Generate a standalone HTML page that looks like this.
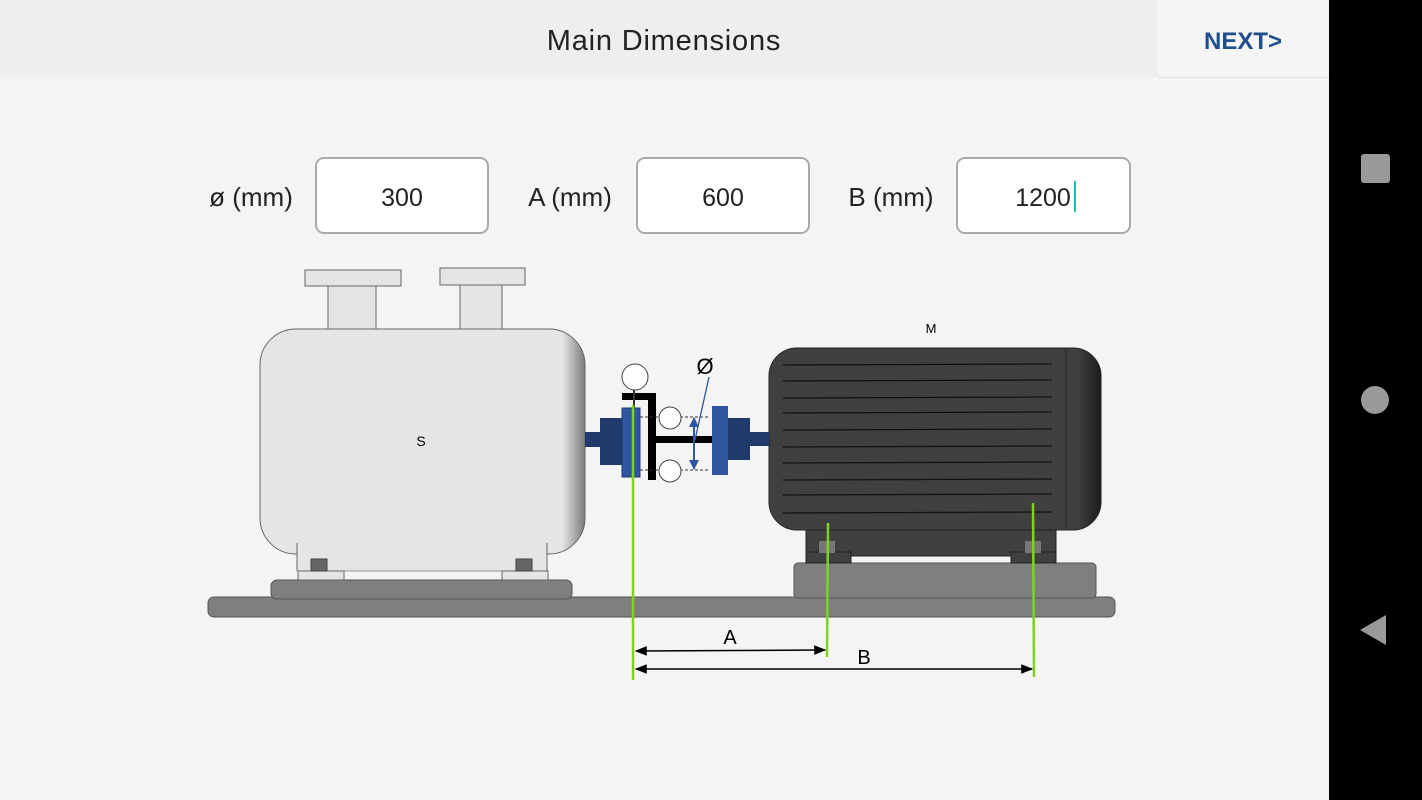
<!DOCTYPE html>
<html><head><meta charset="utf-8"><style>
html,body{margin:0;padding:0;width:1422px;height:800px;overflow:hidden;background:#f3f4f3}
svg{display:block}
text{font-family:"Liberation Sans",sans-serif}
</style></head><body>
<svg width="1422" height="800" viewBox="0 0 1422 800" xmlns="http://www.w3.org/2000/svg">
<defs>
<linearGradient id="pg" x1="0" x2="1"><stop offset="0.93" stop-color="#e5e5e5"/><stop offset="1" stop-color="#7a7a7a"/></linearGradient>
<linearGradient id="mg" x1="0" x2="1"><stop offset="0.93" stop-color="#404040"/><stop offset="1" stop-color="#1c1c1c"/></linearGradient>
<marker id="ah" viewBox="0 0 10 10" refX="9" refY="5" markerWidth="8" markerHeight="8" orient="auto-start-reverse"><path d="M0,1 L10,5 L0,9 z" fill="#000"/></marker>
<marker id="bh" viewBox="0 0 10 10" refX="9" refY="5" markerWidth="5" markerHeight="5" orient="auto-start-reverse"><path d="M0,0 L10,5 L0,10 z" fill="#2f57a0"/></marker>
</defs>
<rect x="0" y="0" width="1422" height="800" fill="#f3f4f3"/>
<rect x="0" y="0" width="1329" height="77" fill="#eeeeee"/>
<rect x="1158" y="0" width="171" height="77" fill="#f5f5f5"/>
<line x1="1158" y1="77.5" x2="1329" y2="77.5" stroke="#e2e2e2"/>
<text x="664" y="50" font-size="29" letter-spacing="0.8" text-anchor="middle" fill="#222">Main Dimensions</text>
<text x="1243" y="49" font-size="24" font-weight="bold" text-anchor="middle" fill="#1f4e8c">NEXT&gt;</text>
<rect x="1329" y="0" width="93" height="800" fill="#000"/>
<rect x="1361" y="154" width="29" height="29" rx="3" fill="#999"/>
<circle cx="1375" cy="400" r="14" fill="#999"/>
<path d="M1386,615 L1386,645 L1360,630 z" fill="#999"/>
<g font-size="25" fill="#222">
<text x="251" y="206" font-size="26" text-anchor="middle">ø (mm)</text>
<text x="570" y="206" font-size="26" text-anchor="middle">A (mm)</text>
<text x="891" y="206" font-size="26" text-anchor="middle">B (mm)</text>
<rect x="316" y="158" width="172" height="75" rx="8" fill="#fff" stroke="#aaa" stroke-width="2"/>
<rect x="637" y="158" width="172" height="75" rx="8" fill="#fff" stroke="#aaa" stroke-width="2"/>
<rect x="957" y="158" width="173" height="75" rx="8" fill="#fff" stroke="#aaa" stroke-width="2"/>
<text x="402" y="206" text-anchor="middle">300</text>
<text x="723" y="206" text-anchor="middle">600</text>
<text x="1043" y="206" text-anchor="middle">1200</text>
</g>
<rect x="1074" y="181" width="2" height="31" fill="#1fbfae"/>
<rect x="208" y="597" width="907" height="20" rx="6" fill="#7f7f7f" stroke="#555"/>
<rect x="271" y="580" width="301" height="19" rx="6" fill="#7f7f7f" stroke="#555"/>
<rect x="794" y="563" width="302" height="35" rx="4" fill="#7f7f7f" stroke="#555"/>
<rect x="305" y="270" width="96" height="16" fill="#e5e5e5" stroke="#666"/>
<rect x="440" y="268" width="85" height="17" fill="#e5e5e5" stroke="#666"/>
<rect x="328" y="286" width="48" height="43" fill="#e5e5e5" stroke="#666"/>
<rect x="460" y="285" width="42" height="44" fill="#e5e5e5" stroke="#666"/>
<rect x="260" y="329" width="325" height="225" rx="36" fill="url(#pg)" stroke="#666"/>
<rect x="297" y="540" width="250" height="31" fill="#e5e5e5"/>
<line x1="297" y1="543" x2="297" y2="571" stroke="#666"/>
<line x1="547" y1="543" x2="547" y2="571" stroke="#666"/>
<line x1="297" y1="571" x2="547" y2="571" stroke="#999"/>
<rect x="298" y="571" width="46" height="9" fill="#e5e5e5" stroke="#666"/>
<rect x="502" y="571" width="46" height="9" fill="#e5e5e5" stroke="#666"/>
<rect x="311" y="559" width="16" height="12" fill="#666" stroke="#444"/>
<rect x="516" y="559" width="16" height="12" fill="#666" stroke="#444"/>
<text x="421" y="446" font-size="14" text-anchor="middle" fill="#000">S</text>
<rect x="806" y="520" width="250" height="36" fill="#404040" stroke="#222"/>
<rect x="806" y="552" width="45" height="11" fill="#404040" stroke="#222"/>
<rect x="1011" y="552" width="45" height="11" fill="#404040" stroke="#222"/>
<rect x="819" y="541" width="16" height="12" fill="#777"/>
<rect x="1025" y="541" width="16" height="12" fill="#777"/>
<rect x="769" y="348" width="332" height="182" rx="28" fill="url(#mg)" stroke="#222"/>
<line x1="1066" y1="350" x2="1066" y2="528" stroke="#222"/>
<g stroke="#111" stroke-width="1.3">
<line x1="783" y1="365" x2="1052" y2="364"/><line x1="783" y1="381" x2="1052" y2="380"/>
<line x1="783" y1="398" x2="1052" y2="397"/><line x1="783" y1="413" x2="1052" y2="412"/>
<line x1="783" y1="430" x2="1052" y2="429"/><line x1="783" y1="447" x2="1052" y2="446"/>
<line x1="783" y1="463" x2="1052" y2="462"/><line x1="783" y1="480" x2="1052" y2="479"/>
<line x1="783" y1="495" x2="1052" y2="494"/><line x1="783" y1="513" x2="1052" y2="512"/>
</g>
<text x="931" y="333" font-size="13" text-anchor="middle" fill="#000">M</text>
<rect x="585" y="432" width="16" height="15" fill="#1f3a6b"/>
<rect x="600" y="418" width="23" height="47" fill="#1f3a6b"/>
<rect x="622" y="408" width="18" height="69" fill="#2f57a0" stroke="#1f3a6b"/>
<rect x="712" y="406" width="16" height="69" fill="#2f57a0"/>
<rect x="728" y="418" width="22" height="42" fill="#1f3a6b"/>
<rect x="750" y="432" width="19" height="14" fill="#1f3a6b"/>
<rect x="648" y="393" width="8" height="87" fill="#000"/>
<rect x="622" y="393" width="34" height="7" fill="#000"/>
<rect x="656" y="436" width="56" height="7" fill="#000"/>
<line x1="634" y1="390" x2="634" y2="408" stroke="#333" stroke-width="2"/>
<circle cx="635" cy="377" r="13" fill="#fff" stroke="#444"/>
<line x1="640" y1="417" x2="710" y2="417" stroke="#333" stroke-dasharray="3,2"/>
<line x1="640" y1="470" x2="710" y2="470" stroke="#333" stroke-dasharray="3,2"/>
<circle cx="670" cy="418" r="11" fill="#fff" stroke="#444"/>
<circle cx="670" cy="471" r="11" fill="#fff" stroke="#444"/>
<line x1="694" y1="418" x2="694" y2="469" stroke="#2f57a0" stroke-width="2" marker-start="url(#bh)" marker-end="url(#bh)"/>
<line x1="709" y1="377" x2="695" y2="440" stroke="#2f57a0" stroke-width="1.3"/>
<text x="705" y="374" font-size="22" text-anchor="middle" fill="#000">Ø</text>
<g stroke="#7ed321" stroke-width="2.5">
<line x1="633" y1="405" x2="633" y2="680"/>
<line x1="828" y1="523" x2="827" y2="657"/>
<line x1="1033" y1="503" x2="1034" y2="677"/>
</g>
<line x1="636" y1="651" x2="825" y2="650" stroke="#000" stroke-width="1.5" marker-start="url(#ah)" marker-end="url(#ah)"/>
<line x1="636" y1="669" x2="1032" y2="669" stroke="#000" stroke-width="1.5" marker-start="url(#ah)" marker-end="url(#ah)"/>
<text x="730" y="644" font-size="20" text-anchor="middle" fill="#000">A</text>
<text x="864" y="664" font-size="20" text-anchor="middle" fill="#000">B</text>
</svg>
</body></html>
